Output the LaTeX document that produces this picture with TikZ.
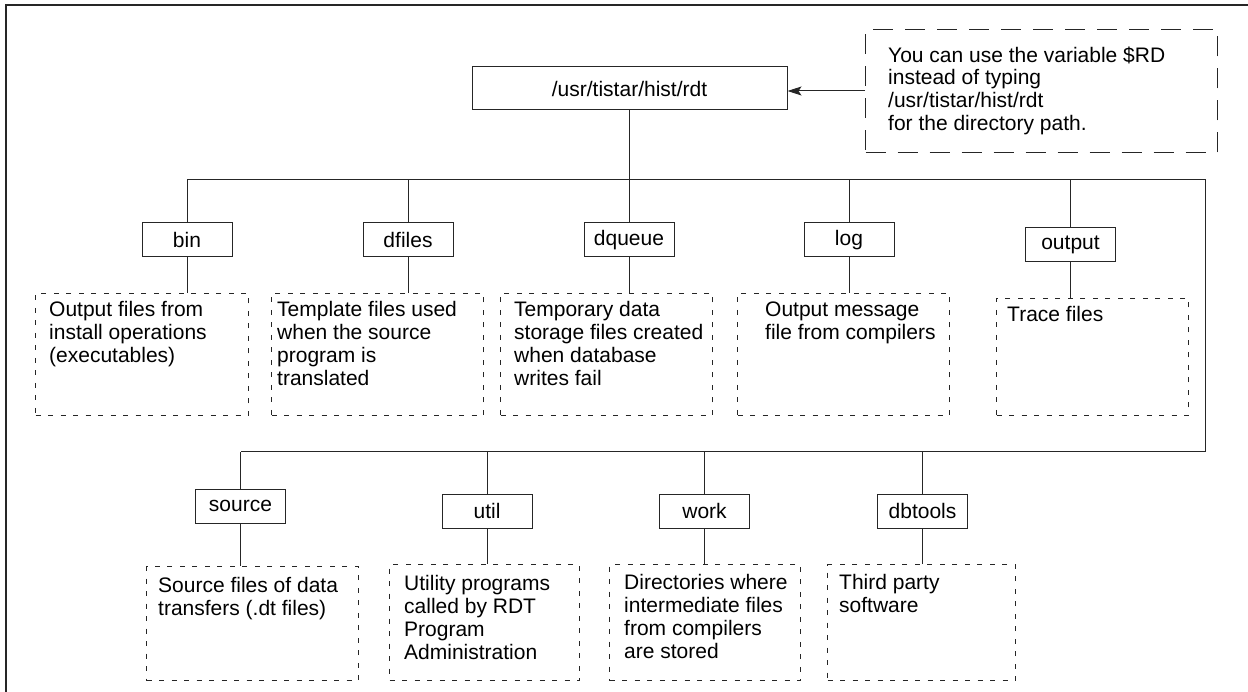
\documentclass[tikz,border=0pt]{standalone}
\usepackage{fontspec}
\setmainfont{Liberation Sans}
\usetikzlibrary{arrows.meta}

\tikzset{
  wire/.style={draw=black!85, line width=1pt},
  dirbox/.style={draw=black!85, line width=1pt, inner sep=0pt,
    minimum width=90pt, minimum height=34pt,
    font=\fontsize{21}{23}\selectfont},
  rootbox/.style={dirbox, minimum width=315pt, minimum height=43pt},
  descbox/.style={draw=black!85, line width=1pt, dash pattern=on 5pt off 7.5pt,
    inner sep=0pt, anchor=north west},
  notebox/.style={descbox, dash pattern=on 20pt off 12pt},
  desctext/.style={inner sep=0pt, anchor=north west, align=left,
    font=\fontsize{21}{23}\selectfont},
}

% dashed description frame: name, x1, y1, x2, y2
\newcommand\descframe[5]{%
  \node[descbox, minimum width=#4pt-#2pt, minimum height=#5pt-#3pt] (#1) at (#2,#3) {};}

\begin{document}
\begin{tikzpicture}[x=1pt, y=-1pt]
  \useasboundingbox (0,0) rectangle (1248,692);

  % page frame
  \draw[black!85, line width=1.6pt] (6,692) -- (6,5) -- (1248,5);

  % root directory and the note that points at it
  \node[rootbox] (root) at (629.5,88.5) {/usr/tistar/hist/rdt};
  \node[notebox, minimum width=352pt, minimum height=123pt] (note) at (865,29) {};
  \node[desctext, font=\fontsize{21}{22.7}\selectfont] (notet) at (888,46.5)
    {You can use the variable \$RD\\instead of typing\\/usr/tistar/hist/rdt\\for the directory path.};
  \draw[wire, -{Stealth[length=14pt, width=9pt, inset=3pt]}] (note.west) -- (note.west -| root.east);

  % bus corners
  \coordinate (tr) at (1205,180);
  \coordinate (br) at (1205,452);

  % first row of subdirectories
  \node[dirbox] (bin)    at (187,240)    {bin};
  \node[dirbox] (dfiles) at (408,240)    {dfiles};
  \node[dirbox] (dqueue) at (629,240)    {dqueue};
  \node[dirbox] (log)    at (849,240)    {log};
  \node[dirbox] (output) at (1070.5,244.5) {output};

  \descframe{bind}{35}{293}{248}{415}
  \descframe{dfilesd}{271}{293}{483}{415}
  \descframe{dqueued}{500}{293}{712}{415}
  \descframe{logd}{737}{293}{949}{415}
  \descframe{outputd}{996}{298}{1188}{415}

  \node[desctext] (bint)    at (49,301.5)   {Output files from\\install operations\\(executables)};
  \node[desctext] (dfilest) at (277,301.5)  {Template files used\\when the source\\program is\\translated};
  \node[desctext] (dqueuet) at (514,301.5)  {Temporary data\\storage files created\\when database\\writes fail};
  \node[desctext] (logt)    at (765,301.5)  {Output message\\file from compilers};
  \node[desctext] (outputt) at (1007,306.5) {Trace files};

  % second row of subdirectories
  \node[dirbox] (source)  at (240.5,506) {source};
  \node[dirbox] (util)    at (487,511)   {util};
  \node[dirbox] (work)    at (704.5,511) {work};
  \node[dirbox] (dbtools) at (922.5,511) {dbtools};

  \descframe{sourced}{146}{566}{358}{680}
  \descframe{utild}{389}{564}{579}{680}
  \descframe{workd}{609}{564}{800}{680}
  \descframe{dbtoolsd}{827}{564}{1015}{680}

  \node[desctext] (sourcet)  at (158,577) {Source files of data\\transfers (.dt files)};
  \node[desctext] (utilt)    at (404,575) {Utility programs\\called by RDT\\Program\\Administration};
  \node[desctext] (workt)    at (624,574) {Directories where\\intermediate files\\from compilers\\are stored};
  \node[desctext] (dbtoolst) at (839,574) {Third party\\software};

  % tree connectors
  \draw[wire] (root.south) -- (root.south |- tr);
  \draw[wire] (bin.north |- tr) -- (tr) -- (br) -- (source.north |- br);
  \foreach \d in {bin, dfiles, dqueue, log, output}
    \draw[wire] (\d.north) -- (\d.north |- tr);
  \foreach \d in {source, util, work, dbtools}
    \draw[wire] (\d.north) -- (\d.north |- br);
  \foreach \d in {bin, dfiles, dqueue, log, output, source, util, work, dbtools}
    \draw[wire] (\d.south) -- (\d.south |- \d d.north);
\end{tikzpicture}
\end{document}
